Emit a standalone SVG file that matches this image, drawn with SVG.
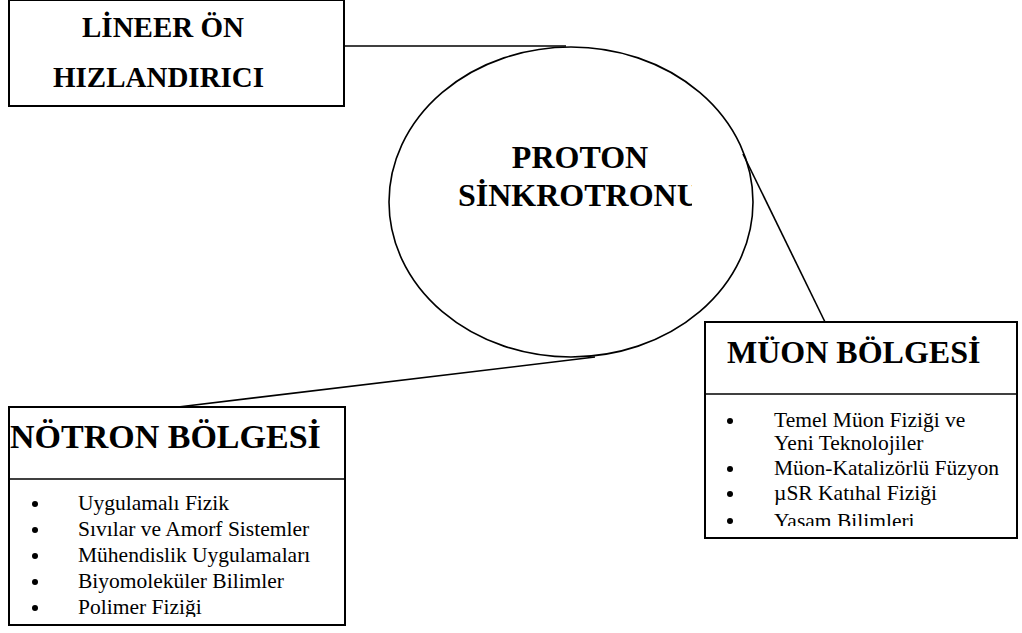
<svg xmlns="http://www.w3.org/2000/svg" width="1022" height="633" viewBox="0 0 1022 633">
<style>
.box{fill:#fff;stroke:#000;stroke-width:2}
.ln{fill:none;stroke:#000;stroke-width:1.6}
.h{font-weight:bold;fill:#000}
.t{font-size:21.5px;fill:#000}
</style>
<defs>
<clipPath id="cp"><rect x="390" y="150" width="302" height="80"/></clipPath>
<clipPath id="cm"><rect x="706" y="395" width="310" height="131"/></clipPath>
<clipPath id="cn"><rect x="10" y="480" width="336" height="137"/></clipPath>
</defs>
<g id="connectors">
<line class="ln" x1="344" y1="46" x2="566" y2="46"/>
<line class="ln" x1="743" y1="154" x2="825" y2="322"/>
<line class="ln" x1="178" y1="407" x2="595" y2="357"/>
</g>
<g font-family="'Liberation Serif', 'Times New Roman', serif">
<g id="lineer">
<rect class="box" x="9" y="0" width="335" height="106"/>
<text class="h" font-size="29" x="82" y="37">LİNEER ÖN</text>
<text class="h" font-size="29" x="53" y="87">HIZLANDIRICI</text>
</g>
<g id="proton">
<ellipse class="ln" cx="571" cy="202" rx="182" ry="155"/>
<text class="h" font-size="32" x="580" y="168" text-anchor="middle">PROTON</text>
<text class="h" font-size="32" x="458" y="206" clip-path="url(#cp)">SİNKROTRONU</text>
</g>
<g id="muon">
<rect class="box" x="705" y="322" width="312" height="216"/>
<line class="ln" x1="705" y1="394" x2="1017" y2="394" stroke-width="2"/>
<text class="h" font-size="32" x="727" y="363">MÜON BÖLGESİ</text>
<g clip-path="url(#cm)">
<circle cx="730" cy="421" r="3"/>
<text class="t" x="774" y="427">Temel Müon Fiziği ve</text>
<text class="t" x="774" y="450">Yeni Teknolojiler</text>
<circle cx="730" cy="469" r="3"/>
<text class="t" x="774" y="475">Müon-Katalizörlü Füzyon</text>
<circle cx="730" cy="494" r="3"/>
<text class="t" x="774" y="500">µSR Katıhal Fiziği</text>
<circle cx="730" cy="521" r="3"/>
<text class="t" x="774" y="528">Yasam  Bilimleri</text>
</g>
</g>
<g id="notron">
<rect class="box" x="9" y="407" width="336" height="218"/>
<line class="ln" x1="9" y1="479" x2="345" y2="479" stroke-width="2"/>
<text class="h" font-size="34" x="10" y="448">NÖTRON BÖLGESİ</text>
<g clip-path="url(#cn)">
<circle cx="35" cy="504" r="3"/>
<text class="t" x="78" y="510">Uygulamalı Fizik</text>
<circle cx="35" cy="530" r="3"/>
<text class="t" x="78" y="536">Sıvılar ve Amorf Sistemler</text>
<circle cx="35" cy="556" r="3"/>
<text class="t" x="78" y="562">Mühendislik Uygulamaları</text>
<circle cx="35" cy="582" r="3"/>
<text class="t" x="78" y="588">Biyomoleküler Bilimler</text>
<circle cx="35" cy="608" r="3"/>
<text class="t" x="78" y="614">Polimer Fiziği</text>
</g>
</g>
</g>
</svg>
